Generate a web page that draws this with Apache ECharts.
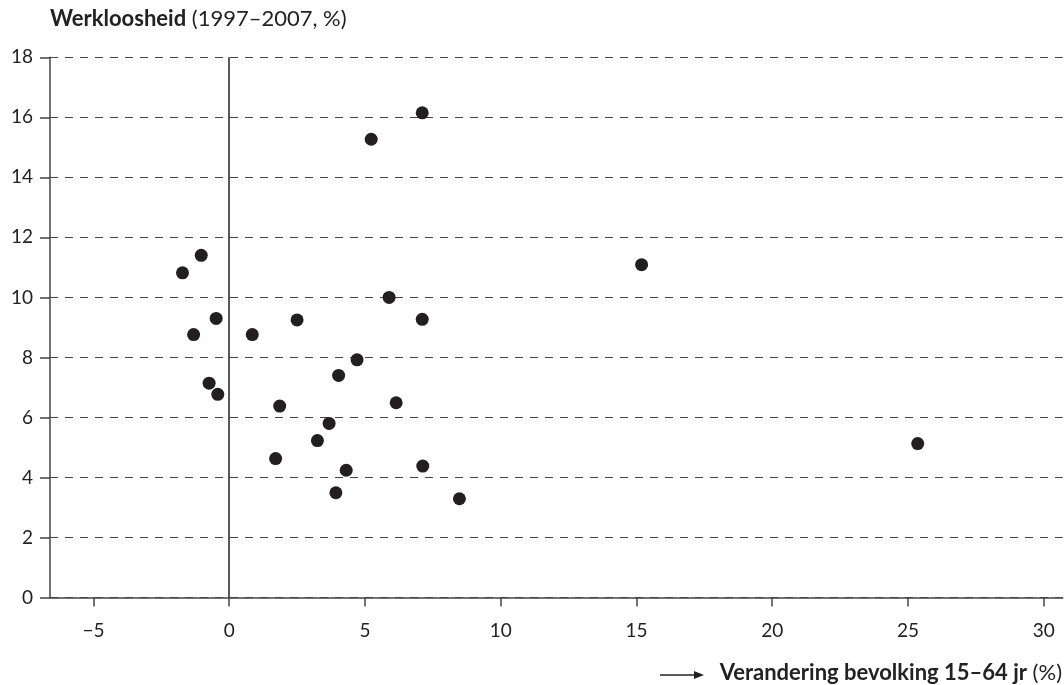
<!DOCTYPE html>
<html><head><meta charset="utf-8">
<script src="https://cdn.jsdelivr.net/npm/echarts@6/dist/echarts.min.js"></script>
<style>html,body{margin:0;padding:0;background:#fff}#c{width:1064px;height:685px}</style>
</head><body><div id="c"></div>
<script>
const popChange = [-1.72,-1.03,-1.31,-0.48,-0.74,-0.42,0.85,2.50,1.86,1.71,3.25,3.68,4.03,4.71,4.31,3.93,5.23,7.11,5.89,7.11,6.15,7.13,8.48,15.19,25.36];
const unemployment = [10.82,11.40,8.76,9.30,7.14,6.77,8.76,9.25,6.38,4.63,5.23,5.80,7.40,7.92,4.24,3.49,15.27,16.15,10.0,9.27,6.49,4.38,3.29,11.09,5.13];
const xTicks = [-5,0,5,10,15,20,25,30];
const yTicks = [0,2,4,6,8,10,12,14,16,18];
const yTitleBold = 'Werkloosheid';
const yTitleRest = ' (1997–2007, %)';
const xTitleBold = 'Verandering bevolking 15–64 jr';
const xTitleRest = ' (%)';

const points = popChange.map((x, i) => [x, unemployment[i]]);
const FONT = 'Lato, "Open Sans", sans-serif';
const chart = echarts.init(document.getElementById('c'));
chart.setOption({
  animation: false,
  grid: { left: 50, right: 1.3, top: 57.3, bottom: 87.5, containLabel: false },
  xAxis: {
    type: 'value', min: -6.6, max: 30.7,
    axisLine: { show: true, onZero: false, lineStyle: { color: '#444', width: 1.5 } },
    axisTick: { show: true, inside: false, length: 9, customValues: xTicks, lineStyle: { color: '#444', width: 1.5 } },
    axisLabel: { customValues: xTicks, margin: 24, fontSize: 19, color: '#222', fontFamily: FONT,
      formatter: v => String(v).replace('-', '−') },
    splitLine: { show: false }
  },
  yAxis: {
    type: 'value', min: 0, max: 18, interval: 2,
    axisLine: { show: true, onZero: false, lineStyle: { color: '#444', width: 1.5 } },
    axisTick: { show: true, length: 10, lineStyle: { color: '#444', width: 1.5 } },
    axisLabel: { margin: 17, fontSize: 19, color: '#222', fontFamily: FONT },
    splitLine: { show: true, lineStyle: { color: '#444', width: 1, type: [8, 7] } }
  },
  series: [{
    type: 'scatter', data: points, symbolSize: 13,
    itemStyle: { color: '#231f20', opacity: 1 },
    markLine: {
      silent: true, symbol: 'none', label: { show: false },
      lineStyle: { color: '#222', width: 1.5, type: 'solid' },
      data: [{ xAxis: 0 }]
    }
  }],
  graphic: [
    { type: 'text', left: 50, top: 8,
      style: { text: '{b|' + yTitleBold + '}{r|' + yTitleRest + '}',
        rich: { b: { fontSize: 22, fontWeight: 'bold', fontFamily: FONT, fill: '#222' },
                r: { fontSize: 22, fontFamily: FONT, fill: '#222' } } } },
    { type: 'text', right: 2, top: 662,
      style: { text: '{b|' + xTitleBold + '}{r|' + xTitleRest + '}',
        rich: { b: { fontSize: 22, fontWeight: 'bold', fontFamily: FONT, fill: '#222' },
                r: { fontSize: 22, fontFamily: FONT, fill: '#222' } } } },
    { type: 'line', shape: { x1: 660, y1: 675, x2: 696, y2: 675 }, style: { stroke: '#222', lineWidth: 1.5 } },
    { type: 'polygon', shape: { points: [[694, 671], [704, 675], [694, 679]] }, style: { fill: '#222' } }
  ]
});
</script></body></html>
